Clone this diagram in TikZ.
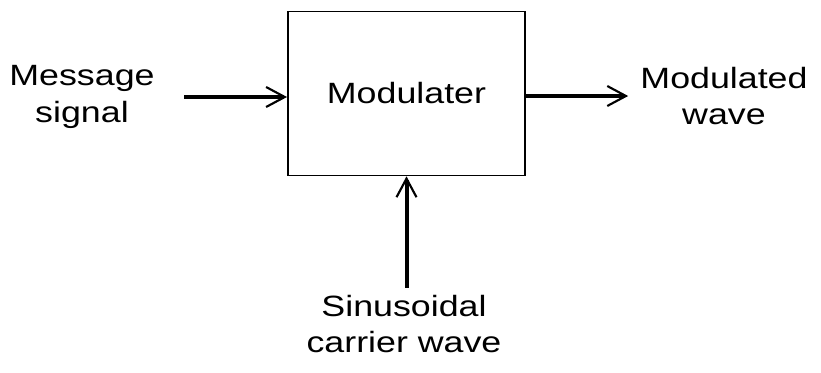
\documentclass[tikz,border=0pt]{standalone}
\usepackage{fontspec}
\setsansfont{Liberation Sans}[FakeStretch=1.22]
\usetikzlibrary{arrows.meta}

\begin{document}
\begin{tikzpicture}[x=0.75pt, y=-0.75pt,
	lbl/.style={font=\sffamily\fontsize{22}{27.5}\selectfont, align=center, inner sep=0pt},
	sig/.style={line width=3pt, -{Straight Barb[length=14pt, width=15pt, line width=1.6pt]}}]
	\useasboundingbox (0, 0) rectangle (821, 372);
	% Blocks and labels:
	\node[lbl, draw, line width=1.2pt, minimum width=178pt, minimum height=123pt](mod) at (406.5, 93.5){Modulater};
	\node[lbl](msg) at (82, 97){Message\\signal};
	\node[lbl](out) at (724, 96){Modulated\\wave};
	\node[lbl](car) at (404, 324){Sinusoidal\\carrier wave};
	% Signal paths:
	\draw[sig, shorten <=22pt] (msg.east) -- (msg.east -| mod.west);
	\draw[sig, shorten >=9pt] (mod.east |- out.west) -- (out.west);
	\draw[sig, shorten <=5pt] (car.north -| mod.south) -- (mod.south);
\end{tikzpicture}
\end{document}
